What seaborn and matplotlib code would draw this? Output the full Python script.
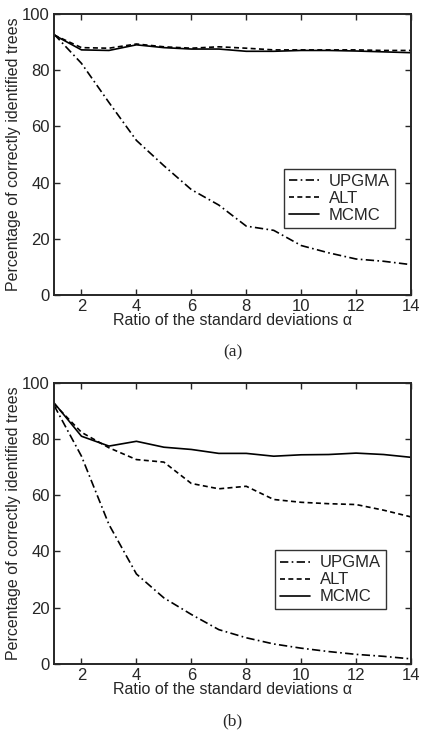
import numpy as np
import pandas as pd
import matplotlib
matplotlib.use('Agg')
import matplotlib.pyplot as plt
import seaborn as sns

alpha = [1, 2, 3, 4, 5, 6, 7, 8, 9, 10, 11, 12, 13, 14]

# panel (a)
upgma_a = [92.8, 82.4, 68.5, 55.0, 46.0, 37.5, 32.0, 24.5, 23.0, 17.6, 15.0, 12.8, 12.0, 10.8]
alt_a = [92.5, 88.0, 87.8, 89.3, 88.3, 87.8, 88.3, 87.8, 87.2, 87.2, 87.2, 87.2, 87.0, 87.0]
mcmc_a = [92.5, 87.2, 87.0, 89.0, 88.0, 87.5, 87.5, 86.7, 86.7, 87.0, 87.0, 86.8, 86.5, 86.2]

# panel (b)
upgma_b = [92.0, 73.9, 49.6, 32.0, 23.5, 17.6, 12.2, 9.3, 7.1, 5.6, 4.4, 3.4, 2.7, 1.8]
alt_b = [92.5, 82.4, 76.9, 72.7, 71.8, 64.2, 62.3, 63.2, 58.5, 57.5, 57.0, 56.7, 54.7, 52.3]
mcmc_b = [92.9, 81.0, 77.5, 79.2, 77.1, 76.3, 74.9, 74.9, 73.9, 74.4, 74.5, 75.0, 74.5, 73.5]

methods = ['UPGMA', 'ALT', 'MCMC']
yticks = [0, 20, 40, 60, 80, 100]
xticks = [2, 4, 6, 8, 10, 12, 14]

sns.set_style('ticks')
plt.rcParams['font.family'] = ['Liberation Sans', 'DejaVu Sans']

styles = {'UPGMA': (0, (5, 2, 1, 2)), 'ALT': (0, (3, 2)), 'MCMC': '-'}


def make_df(u, a, m):
    rows = []
    for name, vals in zip(methods, [u, a, m]):
        for x, v in zip(alpha, vals):
            rows.append({'alpha': x, 'pct': v, 'method': name})
    return pd.DataFrame(rows)


fig = plt.figure(figsize=(4.22, 7.32), dpi=100)
ax1 = fig.add_axes([0.128, 0.597, 0.846, 0.384])
ax2 = fig.add_axes([0.128, 0.093, 0.846, 0.384])

panels = [(ax1, make_df(upgma_a, alt_a, mcmc_a), '(a)', (0.955, 0.343)),
          (ax2, make_df(upgma_b, alt_b, mcmc_b), '(b)', (0.930, 0.299))]

for ax, df, tag, lpos in panels:
    for name in methods:
        sub = df[df['method'] == name]
        sns.lineplot(data=sub, x='alpha', y='pct', ax=ax, color='black',
                     linestyle=styles[name], linewidth=1.2, label=name)
    ax.set_xlim(1, 14)
    ax.set_ylim(0, 100)
    ax.set_xticks(xticks)
    ax.set_yticks(yticks)
    ax.tick_params(direction='in', top=True, right=True, length=4, width=1,
                   labelsize=12, pad=3)
    for s in ax.spines.values():
        s.set_linewidth(1.4)
        s.set_visible(True)
    ax.set_xlabel('Ratio of the standard deviations α', fontsize=11.5, labelpad=-1)
    ax.set_ylabel('Percentage of correctly identified trees', fontsize=11.5, labelpad=1)
    leg = ax.legend(loc='center right', bbox_to_anchor=lpos, frameon=True,
                    fancybox=False, edgecolor='black', fontsize=12,
                    handlelength=1.8, handletextpad=0.6, borderpad=0.3,
                    labelspacing=0.12, borderaxespad=0)
    leg.get_frame().set_linewidth(1.0)
    pos = ax.get_position()
    fig.text(pos.x0 + pos.width / 2, pos.y0 - 0.079, tag, ha='center', va='center',
             family='Liberation Serif', fontsize=12.5)

fig.savefig('out.png', dpi=100)
